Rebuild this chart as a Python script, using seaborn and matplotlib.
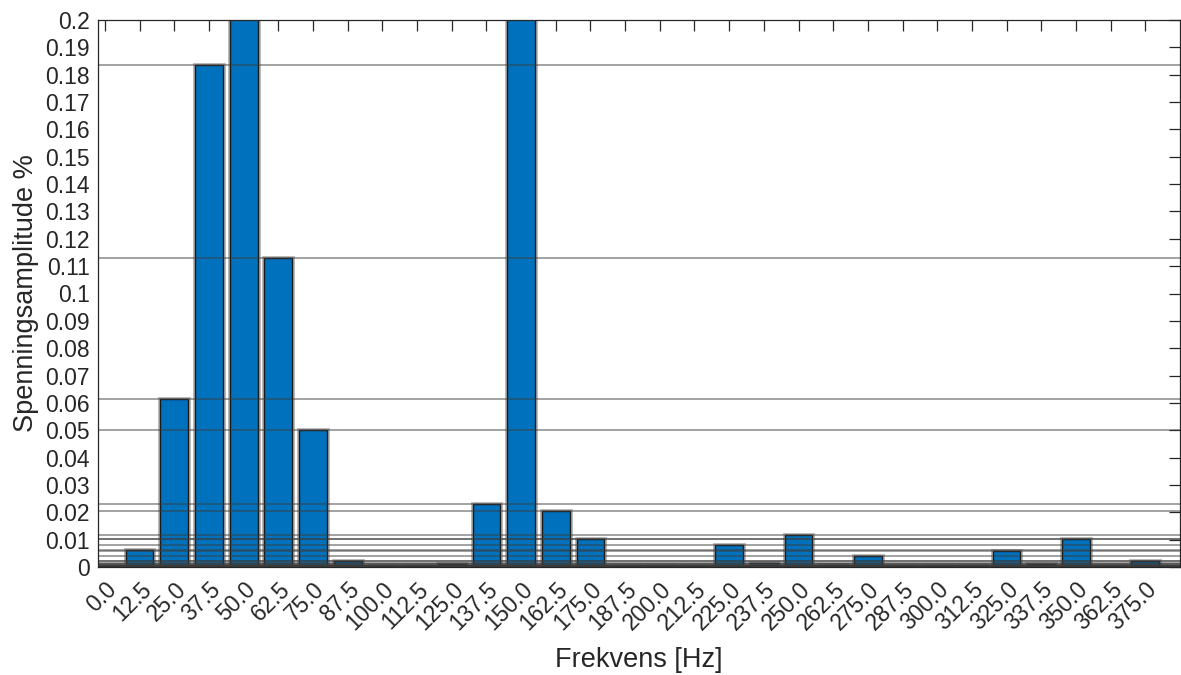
import numpy as np
import pandas as pd
import seaborn as sns
import matplotlib.pyplot as plt
import matplotlib.patheffects as pe

# ---- data ----
freq_labels = ["0.0", "12.5", "25.0", "37.5", "50.0", "62.5", "75.0", "87.5",
               "100.0", "112.5", "125.0", "137.5", "150.0", "162.5", "175.0",
               "187.5", "200.0", "212.5", "225.0", "237.5", "250.0", "262.5",
               "275.0", "287.5", "300.0", "312.5", "325.0", "337.5", "350.0",
               "362.5", "375.0"]
amplitudes = [0.0005, 0.0063, 0.0615, 0.1835, 100.0, 0.113, 0.050, 0.0022,
              0.0003, 0.0003, 0.0011, 0.0231, 0.45, 0.0206, 0.0104,
              0.0003, 0.0003, 0.0003, 0.0082, 0.0015, 0.0118, 0.0006,
              0.0042, 0.0003, 0.0003, 0.0003, 0.0057, 0.0012, 0.0104,
              0.0003, 0.0021]
y_ticks = [round(0.01 * i, 2) for i in range(21)]
y_tick_labels = ["0", "0.01", "0.02", "0.03", "0.04", "0.05", "0.06", "0.07",
                 "0.08", "0.09", "0.1", "0.11", "0.12", "0.13", "0.14", "0.15",
                 "0.16", "0.17", "0.18", "0.19", "0.2"]

df = pd.DataFrame({"Frekvens": freq_labels, "Amplitude": amplitudes})

sns.set_theme(style="white")
plt.rcParams["font.family"] = ["Liberation Sans", "DejaVu Sans"]
txt = "#262626"

fig = plt.figure(figsize=(11.81, 6.75), dpi=100)
ax = fig.add_axes([98 / 1181, 1 - 567 / 675, (1180 - 98) / 1181, (567 - 20) / 675])

sns.barplot(data=df, x="Frekvens", y="Amplitude", order=freq_labels,
            color="#0072BD", saturation=1, width=0.8, ax=ax,
            edgecolor="#1a1a1a", linewidth=1.0, zorder=2)

for p in ax.patches:
    p.set_path_effects([pe.Stroke(linewidth=3.4, foreground="#7a7a7a", alpha=0.6),
                        pe.Normal()])

for v in amplitudes:
    ax.axhline(v, color="#3c3c3c", alpha=0.6, lw=1.1, zorder=3)

ax.set_ylim(0, 0.2)
ax.set_xlim(-0.2, 31.0)
ax.set_yticks(y_ticks)
ax.set_yticklabels(y_tick_labels, fontsize=16.5, color=txt)
ax.set_xticks(range(len(freq_labels)))
ax.set_xticklabels(freq_labels, fontsize=16.5, color=txt, rotation=45,
                   ha="right", rotation_mode="anchor")

ax.tick_params(axis="both", direction="in", length=8, width=0.9, color=txt,
               top=True, right=True, pad=6)
ax.tick_params(axis="x", pad=8)
for t in ax.get_xticklines() + ax.get_yticklines():
    t.set_zorder(5)

for s in ax.spines.values():
    s.set_color(txt)
    s.set_linewidth(0.9)
    s.set_zorder(6)

ax.set_xlabel("Frekvens [Hz]", fontsize=19.5, color=txt, labelpad=9)
ax.set_ylabel("Spenningsamplitude %", fontsize=19.5, color=txt, labelpad=4)

fig.savefig("out.png", dpi=100)
